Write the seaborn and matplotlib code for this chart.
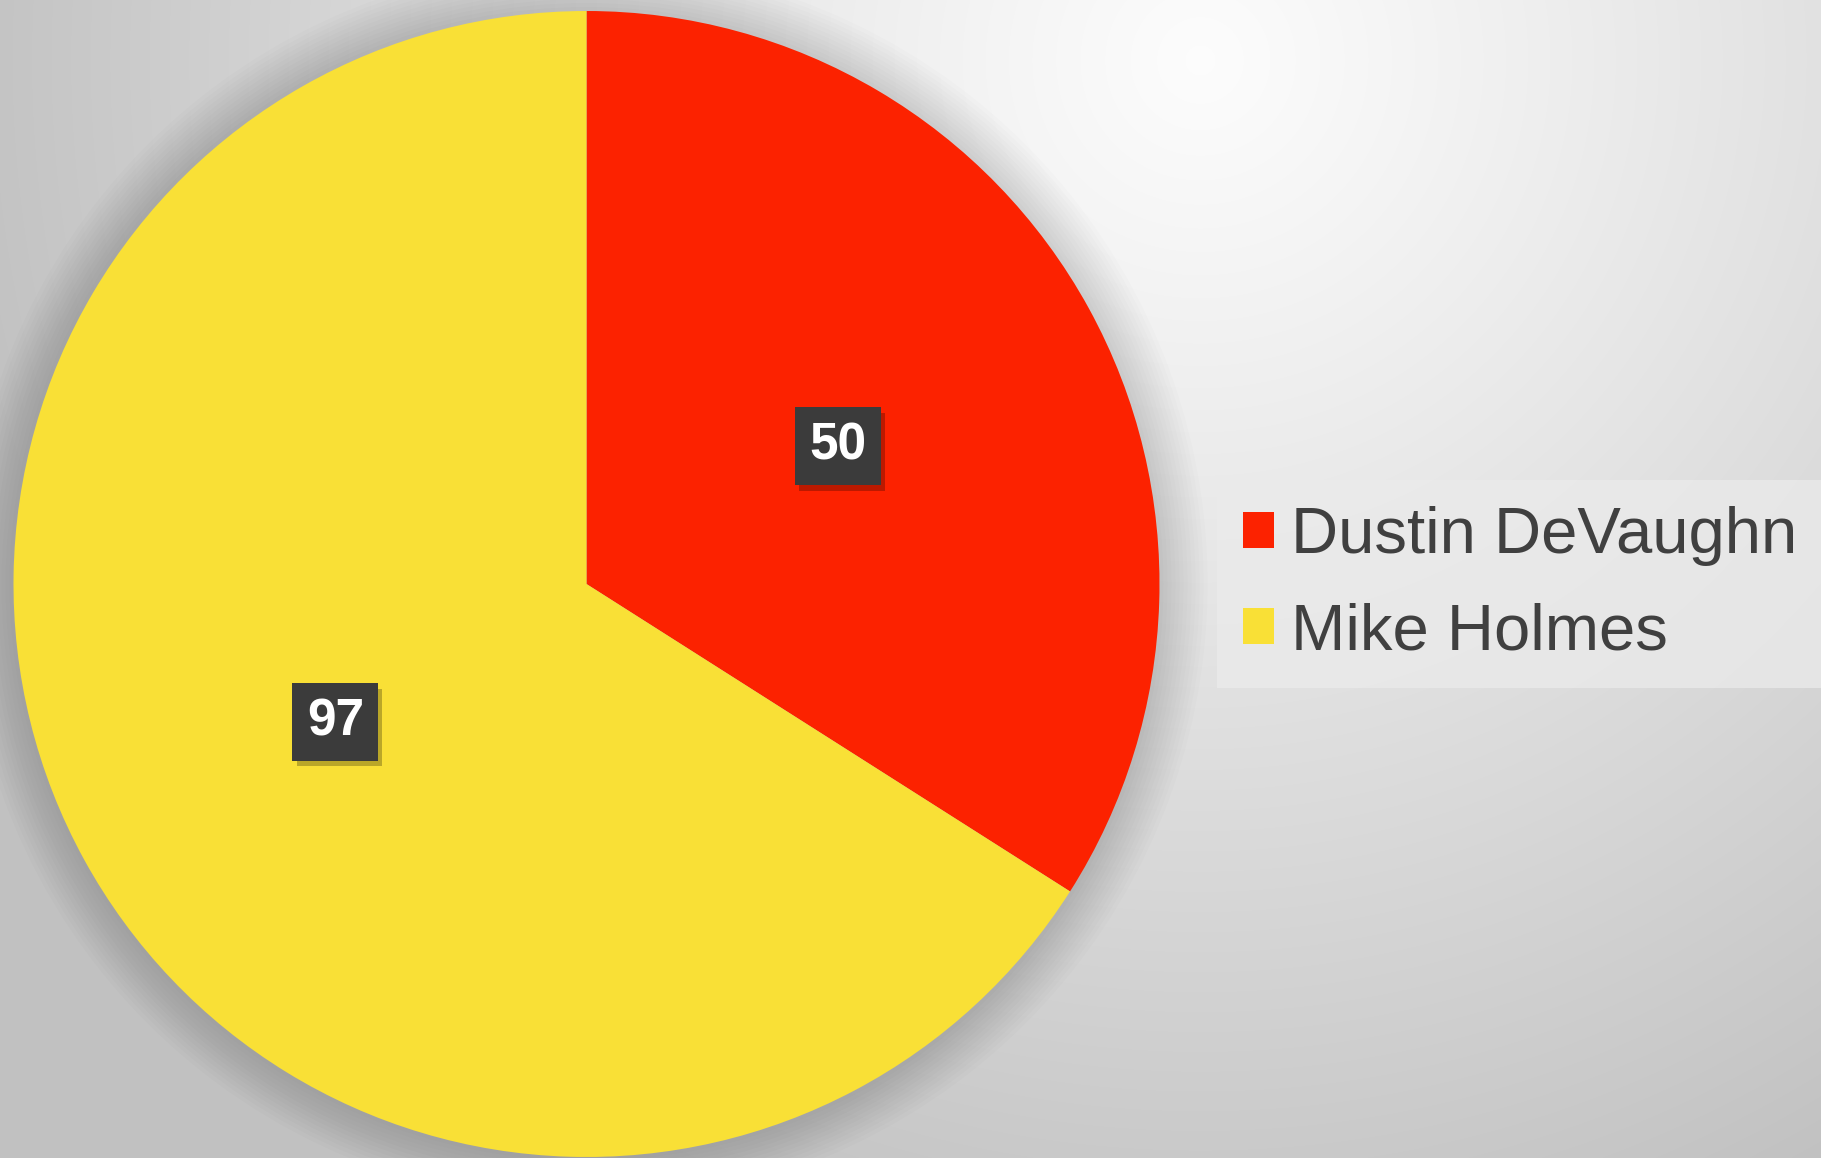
import numpy as np
import matplotlib
matplotlib.use("Agg")
import matplotlib.pyplot as plt
import matplotlib.patheffects as pe
import seaborn as sns

names = ["Dustin DeVaughn", "Mike Holmes"]
votes = [50, 97]
slice_colors = ["#FC2200", "#F9E036"]

sns.set_theme(style="white")
plt.rcParams['font.family'] = ['Liberation Sans', 'DejaVu Sans']

W, H = 1821, 1158
fig = plt.figure(figsize=(W / 100, H / 100), dpi=100)

# background radial gradient
bg = fig.add_axes([0, 0, 1, 1])
yy, xx = np.mgrid[0:H, 0:W]
d = np.sqrt((xx - 1200) ** 2 + ((yy - 60) * 1.0) ** 2)
t = np.clip(d / 1250, 0, 1)
val = 0.99 - 0.23 * t ** 1.1
img = np.dstack([val, val, val])
bg.imshow(img, extent=[0, W, H, 0], aspect="auto", interpolation="bilinear")
bg.set_xlim(0, W)
bg.set_ylim(H, 0)
bg.axis("off")

# pie axes
cx, cy, r = 586.5, 584, 573
ax = fig.add_axes([(cx - r) / W, (H - cy - r) / H, 2 * r / W, 2 * r / H])
palette = sns.color_palette(slice_colors)

# soft halo/shadow around pie
for k in range(12):
    circ = plt.Circle((0.0, 0.0), 1.0 + 0.007 * (k + 1), color="black",
                      alpha=0.012, lw=0, zorder=0, clip_on=False)
    ax.add_patch(circ)

total = sum(votes)
wedges, _, autotexts = ax.pie(
    votes, colors=palette, startangle=90, counterclock=False,
    autopct=lambda p: f"{round(p * total / 100):d}", pctdistance=0.5,
    wedgeprops=dict(linewidth=0),
    textprops=dict(color="white", fontsize=37, fontweight="bold"),
)
for t_ in autotexts:
    t_.set_bbox(dict(boxstyle="square,pad=0.28", facecolor="#3b3b3b", edgecolor="none"))
    t_.get_bbox_patch().set_path_effects(
        [pe.SimplePatchShadow(offset=(3, -4), alpha=0.25, shadow_rgbFace="black"), pe.Normal()])
ax.set_xlim(-1.0, 1.0)
ax.set_ylim(-1.0, 1.0)
ax.set_aspect("equal")
ax.axis("off")

leg = fig.legend(
    wedges, names, loc="upper left",
    bbox_to_anchor=(1217 / W, 1 - 480 / H),
    fontsize=47, frameon=True, fancybox=False,
    handlelength=0.48, handleheight=0.48, handletextpad=0.25,
    labelspacing=0.55, borderpad=0.4, borderaxespad=0,
)
leg.get_frame().set_facecolor("#ebebeb")
leg.get_frame().set_alpha(0.75)
leg.get_frame().set_edgecolor("none")
for txt in leg.get_texts():
    txt.set_color("#404040")

fig.savefig("out.png", dpi=100)
